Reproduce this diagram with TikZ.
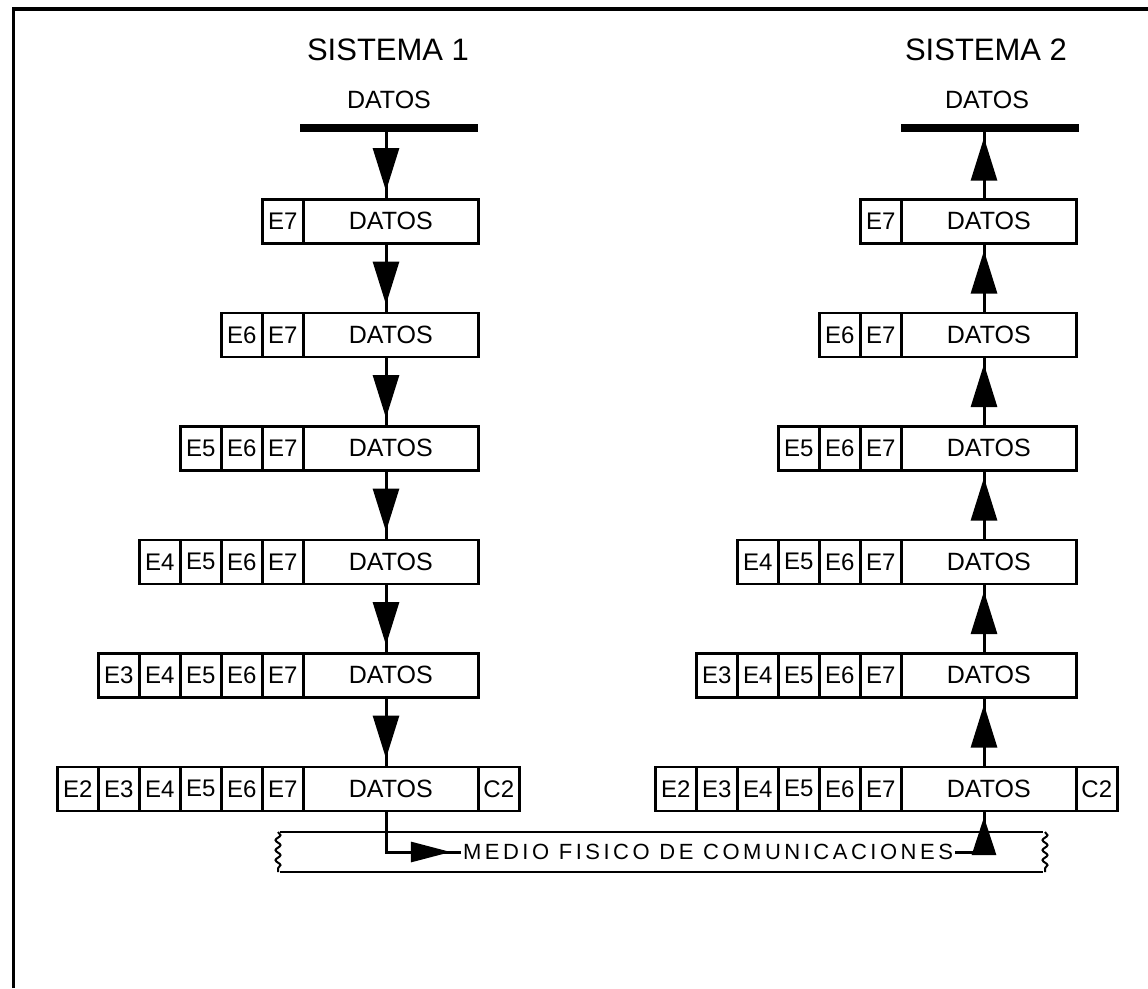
\documentclass[tikz,border=0pt]{standalone}
\usepackage{fontspec}
\setmainfont{Liberation Sans}
\usetikzlibrary{arrows.meta,decorations.pathmorphing}
\begin{document}
\begin{tikzpicture}[x=1pt,y=-1pt,
  cell/.style={draw,line width=2.6pt,minimum height=44pt,inner sep=0pt,
    anchor=north west,font=\fontsize{25}{25}\selectfont},
  datacell/.style={cell,minimum width=175pt},
  hdrcell/.style={cell,minimum width=41pt,font=\fontsize{24}{24}\selectfont},
  bar/.style={fill=black,inner sep=0pt,minimum width=178pt,minimum height=8pt},
  title/.style={font=\fontsize{31}{31}\selectfont},
  lbl/.style={font=\fontsize{25}{25}\selectfont},
  link/.style={line width=3pt},
  head/.style={line width=3pt,-{Triangle[length=43pt,width=26pt]}},
]
\useasboundingbox (0,0) rectangle (1148,988);
% outer frame (top and left edges)
\draw[line width=3.5pt] (13.5,988) -- (13.5,9) -- (1148,9);

% axes of the two stacks
\coordinate (axL) at (386,0);
\coordinate (axR) at (984,0);

% titles, user data labels and bars
\node[title] (sys1) at (388,50) {SISTEMA 1};
\node[title] (sys2) at (986,50) {SISTEMA 2};
\node[lbl] (datL) at (389,100) {DATOS};
\node[lbl] (datR) at (987,100) {DATOS};
\node[bar] (barL) at (389,127.5) {};
\node[bar] (barR) at (990,127.5) {};

% the frames of both stacks
\foreach \side/\off in {L/0,R/598}{
  \foreach \r/\top in {1/198,2/311.5,3/425,4/538.5,5/652,6/765.5}{
    \node[datacell] (\side\r d) at (302+\off,\top) {DATOS};
    \foreach \k in {1,...,\r}{
      \pgfmathtruncatemacro{\lab}{8-\k}
      \node[hdrcell] (\side\r e\k) at (302+\off-41*\k,\top) {E\lab};
    }
  }
  \node[hdrcell] (\side6c) at (477+\off,765.5) {C2};
}

% sending side: downwards
\draw[link] (barL.south -| axL) -- (L1d.north -| axL);
\draw[head,shorten >=7pt] (barL.south -| axL) -- (L1d.north -| axL);
\foreach \a/\b in {1/2,2/3,3/4,4/5,5/6}{
  \draw[link] (L\a d.south -| axL) -- (L\b d.north -| axL);
  \draw[head,shorten >=7pt] (L\a d.south -| axL) -- (L\b d.north -| axL);
}

% receiving side: upwards
\draw[link] (R1d.north -| axR) -- (barR.south -| axR);
\draw[head,shorten >=6pt] (R1d.north -| axR) -- (barR.south -| axR);
\foreach \a/\b in {2/1,3/2,4/3,5/4,6/5}{
  \draw[link] (R\a d.north -| axR) -- (R\b d.south -| axR);
  \draw[head,shorten >=6pt] (R\a d.north -| axR) -- (R\b d.south -| axR);
}

% physical medium
\draw[line width=2pt] (280,832) -- (1043,832);
\draw[line width=2pt] (280,872) -- (1043,872);
\draw[line width=2pt,decorate,decoration={snake,amplitude=2.5pt,segment length=10pt}]
  (278,832) -- (278,872);
\draw[line width=2pt,decorate,decoration={snake,amplitude=2.5pt,segment length=10pt}]
  (1045,832) -- (1045,872);
\node[font=\fontsize{22}{22}\selectfont\addfontfeature{LetterSpace=16},inner sep=2pt]
  (medio) at (708,852) {MEDIO FISICO DE COMUNICACIONES};

\draw[link] (L6d.south -| axL) |- (medio.west);
\draw[line width=3pt,shorten >=10pt,-{Triangle[length=40pt,width=20pt]}]
  (L6d.south -| axL) |- (medio.west);
\draw[link] (medio.east) -| (R6d.south -| axR);
\draw[line width=3pt,shorten >=5pt,-{Triangle[length=38pt,width=24pt]}]
  (medio.east) -| (R6d.south -| axR);
\end{tikzpicture}
\end{document}
